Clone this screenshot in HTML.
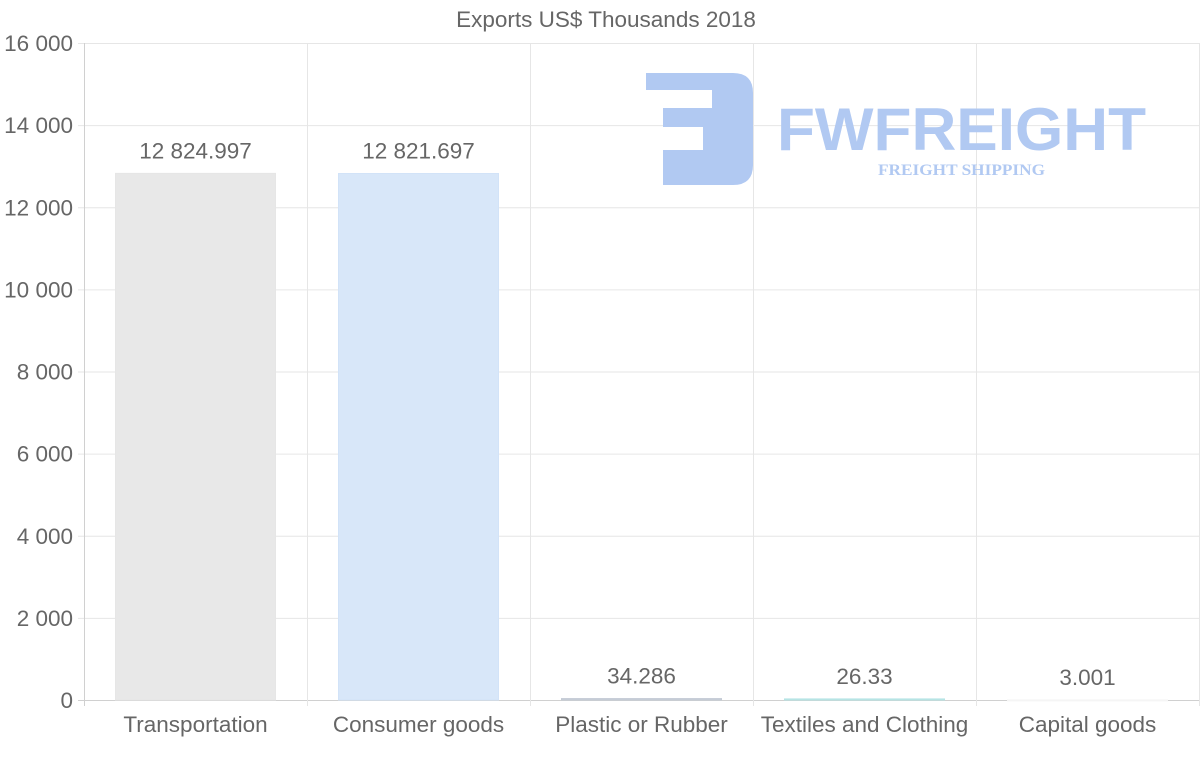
<!DOCTYPE html>
<html><head><meta charset="utf-8"><style>
body{margin:0;background:#fff;}
svg text{font-family:"Liberation Sans",sans-serif;fill:#666;}
</style></head><body>
<svg id="chart" width="1200" height="763">
<text x="606" y="27" font-size="22.5" text-anchor="middle">Exports US$ Thousands 2018</text>
<g id="grid"></g>
<g fill="#b1c9f2">
<path d="M646 73 H733 Q753 73 753 93 V165 Q753 185 733 185 H663 V150 H703 V127 H663 V108 H712 V90 H646 Z"/>
<text x="777" y="150" font-size="60" font-weight="bold" textLength="369" lengthAdjust="spacingAndGlyphs" style="fill:#b1c9f2">FWFREIGHT</text>
<text x="878" y="175" font-size="16" font-weight="bold" textLength="167" lengthAdjust="spacingAndGlyphs" style="fill:#b1c9f2;font-family:'Liberation Serif',serif">FREIGHT SHIPPING</text>
</g>
<g id="bars"></g>
</svg>
<script>
const categories=["Transportation","Consumer goods","Plastic or Rubber","Textiles and Clothing","Capital goods"];
const values=[12824.997,12821.697,34.286,26.33,3.001];
const valueLabels=["12 824.997","12 821.697","34.286","26.33","3.001"];
const yTicks=[0,2000,4000,6000,8000,10000,12000,14000,16000];
const yTickLabels=["0","2 000","4 000","6 000","8 000","10 000","12 000","14 000","16 000"];
const fills=["#e8e8e8","#d8e7f9","#c9d1db","#bfe9ea","#fafafa"];
const strokes=["#e6e6e6","#d2e3f8","#c2cad4","#b5e3e4","#f5f5f5"];
const NS="http://www.w3.org/2000/svg";
const x0=84,x1=1199,y0=700,yTop=43,ymax=16000;
const bw=(x1-x0)/categories.length;
const y=v=>y0-(v/ymax)*(y0-yTop);
const xc=i=>x0+bw*(i+0.5);
const grid=document.getElementById('grid'),bars=document.getElementById('bars');
function mk(tag,attrs,parent,txt){const e=document.createElementNS(NS,tag);for(const k in attrs)e.setAttribute(k,attrs[k]);if(txt!==undefined)e.textContent=txt;parent.appendChild(e);return e;}
yTicks.forEach((t,i)=>{
 const l=mk('line',{x1:x0-6,x2:x1,y1:y(t)+0.5,y2:y(t)+0.5,stroke:i==0?'#d0d0d0':'#e6e6e6'},grid);
 
 
 const tx=mk('text',{x:73,y:y(t)+8,'font-size':22.5,'text-anchor':'end'},grid,yTickLabels[i]);
 
 
});
for(let i=0;i<=categories.length;i++){
 const xx=Math.round(x0+bw*i)+0.5;
 const l=mk('line',{x1:xx,x2:xx,y1:yTop,y2:y0+6,stroke:i==0?'#d0d0d0':'#e6e6e6'},grid);
 
 
}
categories.forEach((c,i)=>{
 const w=160,top=y(values[i]);
 const r=mk('rect',{x:xc(i)-w/2,y:top,width:w,height:Math.max(y0-top,1),fill:fills[i],stroke:strokes[i],'stroke-width':1},bars);
 
 
 const v=mk('text',{x:xc(i),y:top-15,'font-size':22.5,'text-anchor':'middle'},bars,valueLabels[i]);
 
 
 const xl=mk('text',{x:xc(i),y:732,'font-size':22.5,'text-anchor':'middle'},bars,c);
 
 
});
</script>
</body></html>
